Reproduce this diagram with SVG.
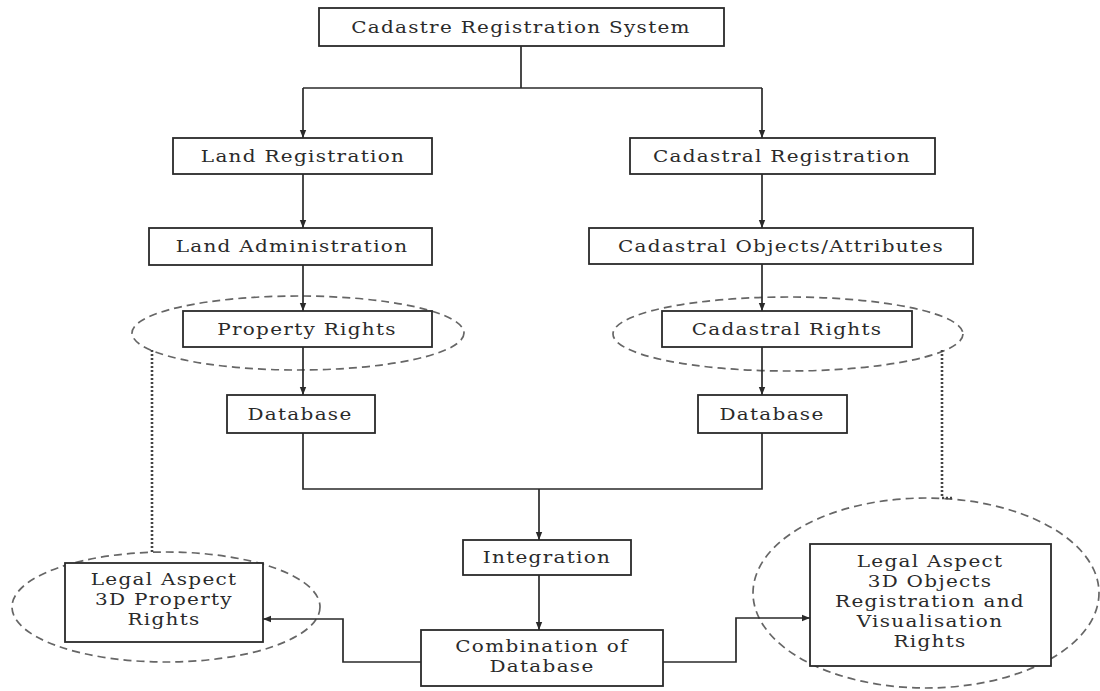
<svg xmlns="http://www.w3.org/2000/svg" width="1100" height="691" viewBox="0 0 1100 691">
<defs>
<style>
.box{fill:#fff;stroke:#2a2a2a;stroke-width:1.8}
.t{font-family:"DejaVu Serif","Liberation Serif",serif;font-size:20px;letter-spacing:1.3px;fill:#2a2a2a;text-anchor:middle}
.c{fill:none;stroke:#2a2a2a;stroke-width:1.7}
.ell{fill:none;stroke:#666;stroke-width:1.7;stroke-dasharray:8 5}
.dot{fill:none;stroke:#444;stroke-width:2.6;stroke-dasharray:2 2}
</style>
<marker id="ah" viewBox="0 0 10 10" refX="10" refY="5" markerWidth="8" markerHeight="8" markerUnits="userSpaceOnUse" orient="auto">
<path d="M0,1 L10,5 L0,9 z" fill="#2a2a2a"/>
</marker>
</defs>
<rect width="1100" height="691" fill="#fff"/>

<g id="ellipses">
<ellipse class="ell" cx="298" cy="333" rx="166" ry="37"/>
<ellipse class="ell" cx="788" cy="334" rx="175" ry="37"/>
<ellipse class="ell" cx="166" cy="607" rx="154" ry="55"/>
<ellipse class="ell" cx="926" cy="593" rx="173" ry="95"/>
<path class="dot" d="M152,350 V552"/>
<path class="dot" d="M942,350 V498 H952"/>
</g>

<g id="connectors">
<path class="c" d="M521,46 V88"/>
<path class="c" d="M303,88 H762"/>
<path class="c" d="M303,88 V138" marker-end="url(#ah)"/>
<path class="c" d="M762,88 V138" marker-end="url(#ah)"/>
<path class="c" d="M303,174 V228" marker-end="url(#ah)"/>
<path class="c" d="M762,174 V228" marker-end="url(#ah)"/>
<path class="c" d="M303,265 V311" marker-end="url(#ah)"/>
<path class="c" d="M762,264 V311" marker-end="url(#ah)"/>
<path class="c" d="M303,347 V395" marker-end="url(#ah)"/>
<path class="c" d="M762,347 V395" marker-end="url(#ah)"/>
<path class="c" d="M303,433 V489 H762 V433"/>
<path class="c" d="M539,489 V540" marker-end="url(#ah)"/>
<path class="c" d="M539,575 V630" marker-end="url(#ah)"/>
<path class="c" d="M421,662 H343 V619 H263" marker-end="url(#ah)"/>
<path class="c" d="M663,662 H736 V618 H810" marker-end="url(#ah)"/>
</g>

<g id="n-system"><rect class="box" x="319" y="8" width="405" height="38"/><text class="t" transform="translate(521,33) scale(1,0.82)">Cadastre Registration System</text></g>
<g id="n-landreg"><rect class="box" x="173" y="138" width="259" height="36"/><text class="t" transform="translate(303,162) scale(1,0.82)">Land Registration</text></g>
<g id="n-cadreg"><rect class="box" x="630" y="138" width="305" height="36"/><text class="t" transform="translate(782,162) scale(1,0.82)">Cadastral Registration</text></g>
<g id="n-landadmin"><rect class="box" x="149" y="228" width="283" height="37"/><text class="t" transform="translate(292,252) scale(1,0.82)">Land Administration</text></g>
<g id="n-cadobj"><rect class="box" x="589" y="228" width="384" height="36"/><text class="t" transform="translate(781,252) scale(1,0.82)">Cadastral Objects/Attributes</text></g>
<g id="n-proprights"><rect class="box" x="183" y="311" width="249" height="36"/><text class="t" transform="translate(307,335) scale(1,0.82)">Property Rights</text></g>
<g id="n-cadrights"><rect class="box" x="662" y="311" width="250" height="36"/><text class="t" transform="translate(787,335) scale(1,0.82)">Cadastral Rights</text></g>
<g id="n-db-left"><rect class="box" x="227" y="395" width="148" height="38"/><text class="t" transform="translate(300,420) scale(1,0.82)">Database</text></g>
<g id="n-db-right"><rect class="box" x="698" y="395" width="149" height="38"/><text class="t" transform="translate(772,420) scale(1,0.82)">Database</text></g>
<g id="n-integration"><rect class="box" x="463" y="540" width="168" height="35"/><text class="t" transform="translate(547,563) scale(1,0.82)">Integration</text></g>
<g id="n-combination"><rect class="box" x="421" y="630" width="242" height="56"/><text class="t" transform="translate(542,652) scale(1,0.82)">Combination of</text><text class="t" transform="translate(542,672) scale(1,0.82)">Database</text></g>
<g id="n-legal-prop"><rect class="box" x="65" y="563" width="198" height="79"/><text class="t" transform="translate(164,585) scale(1,0.82)">Legal Aspect</text><text class="t" transform="translate(164,605) scale(1,0.82)">3D Property</text><text class="t" transform="translate(164,625) scale(1,0.82)">Rights</text></g>
<g id="n-legal-obj"><rect class="box" x="810" y="544" width="241" height="122"/><text class="t" transform="translate(930,567) scale(1,0.82)">Legal Aspect</text><text class="t" transform="translate(930,587) scale(1,0.82)">3D Objects</text><text class="t" transform="translate(930,607) scale(1,0.82)">Registration and</text><text class="t" transform="translate(930,627) scale(1,0.82)">Visualisation</text><text class="t" transform="translate(930,647) scale(1,0.82)">Rights</text></g>
</svg>
